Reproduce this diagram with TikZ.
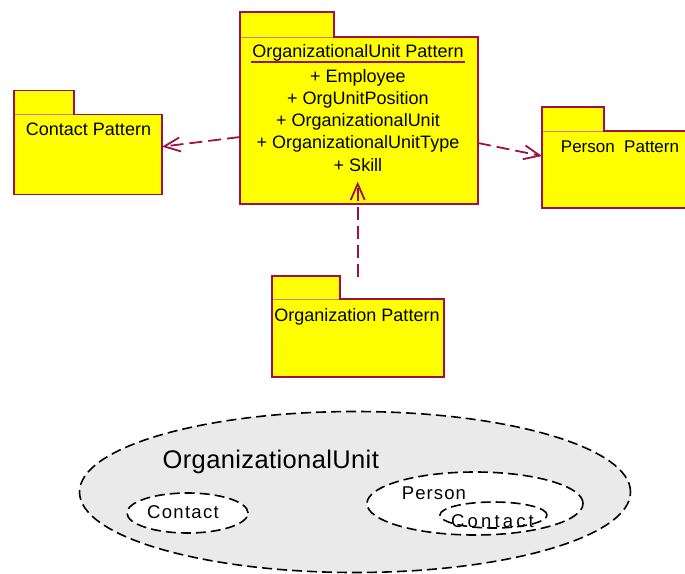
\documentclass[tikz,border=0pt]{standalone}
\usepackage{fontspec}
\setmainfont{Liberation Sans}
\usetikzlibrary{arrows.meta,shapes.geometric}
\definecolor{pkgfill}{RGB}{255,255,0}
\definecolor{pkgline}{RGB}{158,16,72}
\definecolor{setgray}{RGB}{234,234,234}

\begin{document}
\begin{tikzpicture}[x=1pt,y=-1pt]
\tikzstyle{pkgbody}=[rectangle,draw=pkgline,fill=pkgfill,line width=1.8pt,inner sep=0pt,outer sep=0pt,anchor=north west]
\tikzstyle{pkgtab}=[rectangle,draw=pkgline,fill=pkgfill,line width=1.8pt,inner sep=0pt,outer sep=0pt,anchor=south west]
\tikzstyle{pkgsep}=[draw=pkgline!55,line width=0.6pt,shorten <=0.9pt,shorten >=0.9pt,preaction={draw=pkgfill,line width=1.8pt}]
\tikzstyle{pkgtext}=[inner sep=0pt,anchor=base,font=\fontsize{18}{22}\selectfont]
\tikzstyle{depend}=[draw=pkgline,line width=1.8pt,dash pattern=on 13pt off 6pt,-{Straight Barb[length=16pt,width=14pt,line width=1.8pt]}]
\tikzstyle{setoval}=[ellipse,draw=black,line width=1.6pt,dash pattern=on 10pt off 5pt,inner sep=0pt,outer sep=0pt]
\tikzstyle{setlabel}=[inner sep=0pt,anchor=base]
\useasboundingbox (0,0) rectangle (685,573);

% packages
\node[pkgbody,minimum width=238pt,minimum height=167pt] (mainBody) at (240,37) {};
\node[pkgtab,minimum width=94pt,minimum height=25pt] (mainTab) at (mainBody.north west) {};
\draw[pkgsep] (mainTab.south west) -- (mainTab.south east);

\node[pkgbody,minimum width=148pt,minimum height=80pt] (contactBody) at (14,114.5) {};
\node[pkgtab,minimum width=60pt,minimum height=24pt] (contactTab) at (contactBody.north west) {};
\draw[pkgsep] (contactTab.south west) -- (contactTab.south east);

\node[pkgbody,minimum width=150pt,minimum height=77pt] (personBody) at (542,131) {};
\node[pkgtab,minimum width=62pt,minimum height=24pt] (personTab) at (personBody.north west) {};
\draw[pkgsep] (personTab.south west) -- (personTab.south east);

\node[pkgbody,minimum width=172pt,minimum height=78pt] (orgBody) at (272,299) {};
\node[pkgtab,minimum width=68pt,minimum height=23pt] (orgTab) at (orgBody.north west) {};
\draw[pkgsep] (orgTab.south west) -- (orgTab.south east);

% package texts
\node[pkgtext,inner xsep=1.2pt] (mainTitle) at ([xshift=-1pt,yshift=-20.3pt]mainBody.north) {OrganizationalUnit Pattern};
\draw[pkgline,line width=1.8pt] ([yshift=-5pt]mainTitle.base west) -- ([yshift=-5pt]mainTitle.base east);
\foreach \cls [count=\i] in {Employee,OrgUnitPosition,OrganizationalUnit,OrganizationalUnitType,Skill}
  \node[pkgtext] (mainItem\i) at ([xshift=-1pt,yshift={-23.1pt-22.2pt*\i}]mainBody.north) {+ \cls};
\node[pkgtext] (contactName) at ([xshift=0.5pt,yshift=-20.5pt]contactBody.north) {Contact Pattern};
\node[pkgtext,font=\fontsize{17}{22}\selectfont] (personName) at ([xshift=3pt,yshift=-21.7pt]personBody.north) {Person\ \ Pattern};
\node[pkgtext] (orgName) at ([xshift=-1pt,yshift=-22pt]orgBody.north) {Organization Pattern};

% dependencies
\draw[depend] ([yshift=-16.5pt]mainBody.west) -- ([yshift=7.8pt]contactBody.east);
\draw[depend] ([yshift=-22.5pt]mainBody.east) -- ([yshift=13.5pt]personBody.west);
\draw[depend] ([xshift=-0.3pt,yshift=22.3pt]orgBody.north) -- ([xshift=-0.3pt,yshift=22.3pt]orgBody.north |- mainBody.south);

% sets
\node[setoval,fill=setgray,minimum width=551pt,minimum height=161pt] (unitSet) at (355,492) {};
\node[setoval,fill=white,minimum width=121pt,minimum height=40pt] (contactSet) at (187.5,513) {};
\node[setoval,fill=white,minimum width=216pt,minimum height=63pt] (personSet) at (475,503.5) {};
\node[setoval,minimum width=107pt,minimum height=26pt] (personContactSet) at (493.5,515) {};
\node[setlabel,font=\fontsize{25.5}{30}\selectfont\addfontfeature{LetterSpace=1.5}] (unitLabel) at (270.8,468.3) {OrganizationalUnit};
\node[setlabel,font=\fontsize{18.5}{22}\selectfont\addfontfeature{LetterSpace=7}] (contactLabel) at (183,518.3) {Contact};
\node[setlabel,font=\fontsize{18.5}{22}\selectfont\addfontfeature{LetterSpace=6}] (personLabel) at (433.9,499) {Person};
\node[setlabel,font=\fontsize{18.5}{22}\selectfont\addfontfeature{LetterSpace=17}] (personContactLabel) at (492.5,527) {Contact};
\end{tikzpicture}
\end{document}
